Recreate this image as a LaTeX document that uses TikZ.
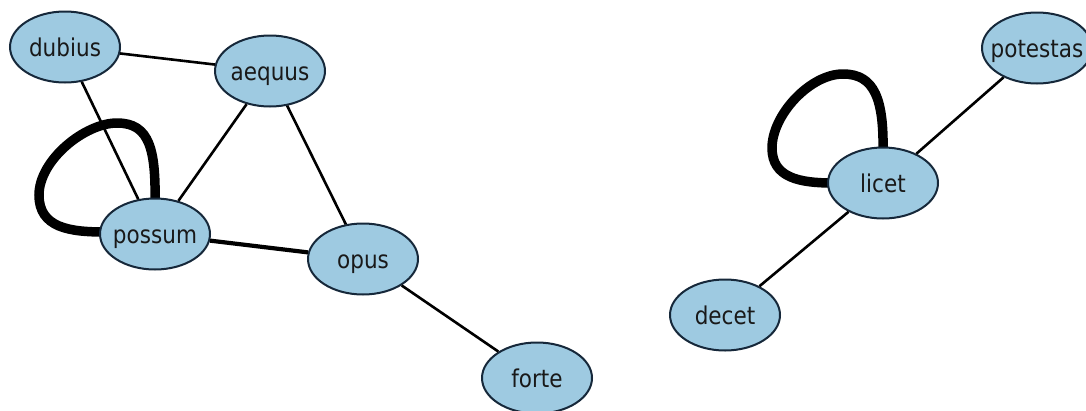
\documentclass[tikz,border=0pt]{standalone}
\usepackage{fontspec}
\usepackage{graphicx}
\setmainfont{DejaVu Sans}
\usetikzlibrary{shapes.geometric}
\definecolor{nodefill}{HTML}{9ECAE1}
\definecolor{nodeline}{HTML}{16283A}
\newcommand\wordlab[1]{\makebox[0pt]{\scalebox{0.88}[1]{#1}}}
\tikzset{
  vertex/.style={ellipse, draw=nodeline, line width=2pt, fill=nodefill,
    minimum width=110pt, minimum height=71pt, inner sep=0pt,
    text height=19pt, text depth=0pt, text=black!90,
    font=\fontsize{24.5pt}{27pt}\selectfont},
  link/.style={line width=2.6pt, black},
  heavylink/.style={line width=4.2pt, black},
  selfloop/.style={line width=9.5pt, black, line cap=round}
}
\begin{document}
\begin{tikzpicture}[x=1pt,y=-1pt]
\fill[white] (0,0) rectangle (1086,410);
\useasboundingbox (0,0) rectangle (1086,410);
% self loops, drawn first so the vertices cover their ends
\coordinate (pl1) at (117,123);
\coordinate (pl2) at (39,195);
\coordinate (ll1) at (843,74);
\coordinate (ll2) at (772,148);
\draw[selfloop] (155,205) .. controls (156,150) and (150,123) .. (pl1)
  .. controls (85,123) and (39,160) .. (pl2)
  .. controls (39,228) and (70,232) .. (105,232);
\draw[selfloop] (883,153) .. controls (884,100) and (875,74) .. (ll1)
  .. controls (810,74) and (772,115) .. (ll2)
  .. controls (772,178) and (800,183) .. (833,183);
% vertices
\node[vertex] (dubius)   at (65,47)   {\wordlab{dubius}};
\node[vertex] (aequus)   at (270,71)  {\wordlab{aequus}};
\node[vertex] (possum)   at (155,234) {\wordlab{possum}};
\node[vertex] (opus)     at (363,259) {\wordlab{opus}};
\node[vertex] (forte)    at (537,378) {\wordlab{forte}};
\node[vertex] (licet)    at (883,183) {\wordlab{licet}};
\node[vertex] (potestas) at (1037,48) {\wordlab{potestas}};
\node[vertex] (decet)    at (725,315) {\wordlab{decet}};
% edges
\draw[link] (dubius) -- (aequus);
\draw[link] (dubius) -- (possum);
\draw[link] (aequus) -- (possum);
\draw[link] (aequus) -- (opus);
\draw[heavylink] (possum) -- (opus);
\draw[link] (opus) -- (forte);
\draw[link] (licet) -- (potestas);
\draw[link] (licet) -- (decet);
\end{tikzpicture}
\end{document}
